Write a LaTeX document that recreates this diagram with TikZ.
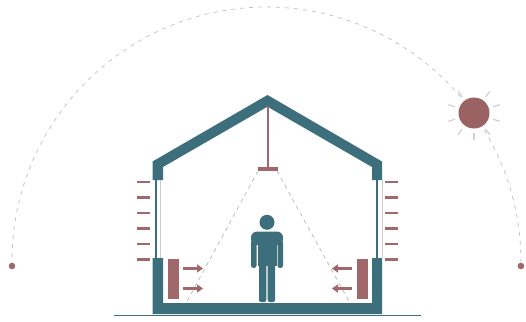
\documentclass[tikz,border=0pt]{standalone}
\usetikzlibrary{arrows.meta}
\definecolor{house}{RGB}{61,110,124}
\definecolor{brick}{RGB}{160,104,106}
\definecolor{sunred}{RGB}{155,98,100}

\begin{document}
\begin{tikzpicture}[x=1pt, y=-1pt,
    orbit/.style={draw=gray!50, dash pattern=on 4pt off 5pt, line width=0.7pt},
    ray/.style={draw=brick!35, line width=1.2pt},
    slat/.style={draw=brick, line width=2.6pt},
    heat/.style={draw=brick, line width=3pt, -{Triangle[length=6pt, width=8pt]}},
    cone/.style={draw=gray!65, dash pattern=on 4pt off 4pt, line width=0.6pt},
    glass/.style={draw=house, line width=2.2pt}]
  \useasboundingbox (0,0) rectangle (526,321);

  % path of the sun, sunrise to sunset
  \coordinate (rise) at (12,266);
  \coordinate (set) at (520.9,266);
  \draw[orbit] (rise) arc[start angle=178.99, end angle=361.01, radius=254.5];
  \fill[brick] (rise) circle (3.3);
  \fill[brick] (set) circle (3.3);

  % sun
  \node[circle, fill=sunred, minimum size=31pt, inner sep=0pt] (sun) at (474,113) {};
  \foreach \a in {-54,-18,18,54,90,126,162,-162,-126}
    \draw[ray] ([shift={(\a:20)}]sun.center) -- ([shift={(\a:27)}]sun.center);

  % light cone of the ceiling lamp
  \draw[cone] (258,171) -- (185,305);
  \draw[cone] (277,171) -- (350,303);

  % roof and upper walls
  \fill[house] (152.5,180) -- (152.5,161.5) -- (267.5,95) -- (382,161.5) -- (382,180)
    -- (372,180) -- (372,167) -- (267.5,106.7) -- (163,167) -- (163,180) -- cycle;
  % lower walls and floor slab
  \fill[house] (152.5,258) -- (152.5,314) -- (382,314) -- (382,258)
    -- (372,258) -- (372,303) -- (163,303) -- (163,258) -- cycle;
  \draw[house, line width=1.4pt] (114,315.5) -- (420.5,315.5);

  % windows
  \draw[glass] (156,180) -- (156,258);
  \draw[glass] (377,180) -- (377,258);
  \draw[gray!40, line width=0.6pt] (160,180) -- (160,258);
  \draw[gray!40, line width=0.6pt] (382.5,180) -- (382.5,258);

  % shading slats
  \foreach \y in {182,197.5,213,228.5,244,259.5} {
    \draw[slat] (137,\y) -- (150,\y);
    \draw[slat] (385,\y) -- (397.5,\y);
  }

  % heaters
  \fill[brick] (167.5,258.5) rectangle (178.5,298.5);
  \fill[brick] (356.5,258.5) rectangle (367.5,298.5);
  \foreach \y in {268.5,288.5} {
    \draw[heat] (183,\y) -- (203,\y);
    \draw[heat] (352,\y) -- (332,\y);
  }

  % lamp
  \draw[brick, line width=2pt] (267.5,106) -- (267.5,168);
  \fill[brick] (257.5,167) rectangle (277.5,171);

  % person
  \fill[house] (267,222.3) circle (7.5);
  \fill[house, rounded corners=6pt] (251,231.5) rectangle (283,245);
  \fill[house] (257.5,238) rectangle (276.5,266);
  \fill[house, rounded corners=2.5pt] (251,240) rectangle (256.5,268);
  \fill[house, rounded corners=2.5pt] (277.5,240) rectangle (283,268);
  \fill[house, rounded corners=2pt] (259,258) rectangle (266.3,302);
  \fill[house, rounded corners=2pt] (267.7,258) rectangle (275,302);
\end{tikzpicture}
\end{document}
